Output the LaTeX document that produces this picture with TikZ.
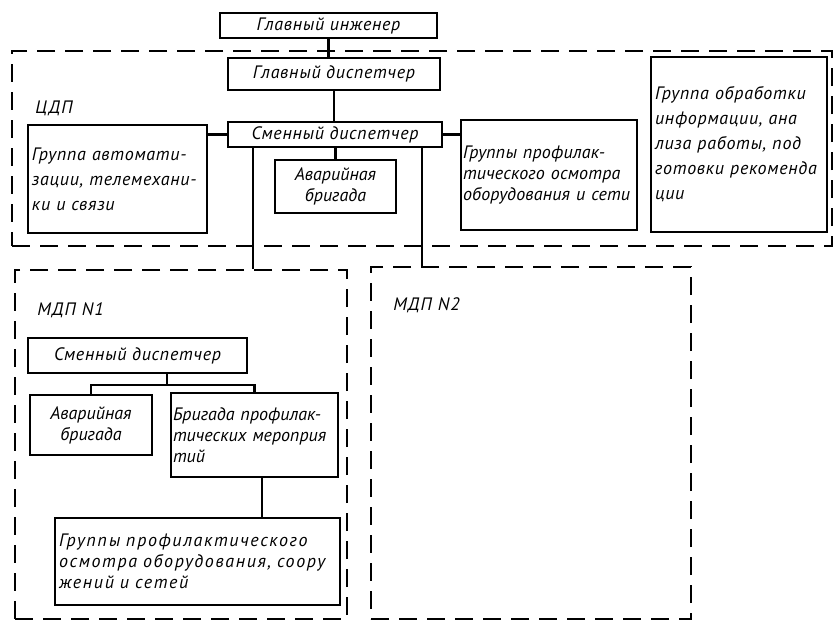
\documentclass[tikz,border=0pt]{standalone}
\usepackage{fontspec}
\setmainfont{PT Sans}
\usetikzlibrary{positioning,calc}
\tikzset{
  blok/.style={draw, line width=1.1pt, inner sep=2pt, align=left,
    font=\fontsize{9}{12.5}\selectfont\itshape\addfontfeatures{LetterSpace=4}},
  plotno/.style={font=\fontsize{9}{10.5}\selectfont\itshape},
  razryadka/.style={font=\fontsize{9}{10.5}\selectfont\itshape\addfontfeatures{LetterSpace=#1}},
  zona/.style={draw, line width=1.2pt, dash pattern=on 9pt off 5pt, inner sep=0pt},
  metka/.style={inner sep=0pt, font=\fontsize{9}{10}\selectfont\itshape\addfontfeatures{LetterSpace=6}},
  svyaz/.style={line width=1.1pt},
}

\begin{document}
\begin{tikzpicture}[x=0.5pt, y=-0.5pt]
        \useasboundingbox (0,0) rectangle (834,622);

        % Зоны
        \node[zona, minimum width=410pt, minimum height=97.5pt] (cdp) at (422,148.5) {};
        \node[zona, minimum width=166pt, minimum height=174.5pt] (mdp1) at (181,444.5) {};
        \node[zona, minimum width=160pt, minimum height=176pt] (mdp2) at (531,443) {};
        \node[metka, anchor=west] (cdpname) at (35,108) {ЦДП};
        \node[metka, anchor=west] (mdp1name) at (37,310) {МДП N1};
        \node[metka, anchor=west] (mdp2name) at (393,305) {МДП N2};

        % ЦДП
        \node[blok, minimum width=108.5pt, minimum height=11.5pt] (inzh) at (328.5,25.5) {Главный инженер};
        \node[blok, minimum width=106pt, minimum height=16pt] (glavdisp) at (334,74) {Главный диспетчер};
        \node[blok, minimum width=107pt, minimum height=12.5pt] (smen) at (335,134.5) {Сменный диспетчер};
        \node[blok, text width=85.5pt, minimum height=54pt] (avtom) at (117.5,179) {Группа автомати-\\зации, телемехани-\\ки и связи};
        \node[blok, plotno, align=center, minimum width=60.5pt, minimum height=26.5pt] (avar) at (335.5,186.5) {Аварийная\\бригада};
        \node[blok, razryadka=1, inner xsep=1pt, text width=86pt, minimum height=55pt] (profgr) at (549,175) {Группы профилак-\\тического осмотра\\оборудования и сети};
        \node[blok, text width=84pt, minimum height=87.5pt] (obrab) at (739,144.5) {Группа обработки\\информации, ана\\лиза работы, под\\готовки рекоменда\\ции};

        % МДП N1
        \node[blok, minimum width=109.5pt, minimum height=17.5pt] (smen1) at (137.5,355.5) {Сменный диспетчер};
        \node[blok, plotno, align=center, minimum width=61pt, minimum height=30pt] (avar1) at (91,425) {Аварийная\\бригада};
        \node[blok, plotno, inner xsep=1pt, text width=81.5pt, minimum height=42pt] (brig) at (254.5,435) {Бригада профилак-\\тических мероприя\\тий};
        \node[blok, razryadka=9, text width=138.5pt, minimum height=43.5pt] (osm) at (197.5,561.5) {Группы профилактического\\осмотра оборудования, соору\\жений и сетей};

        % Связи
        \draw[svyaz] (inzh.south) -- (inzh.south |- glavdisp.north);
        \draw[svyaz] (glavdisp.south) -- (glavdisp.south |- smen.north);
        \draw[svyaz] (avtom.east |- smen.west) -- (smen.west);
        \draw[svyaz] (smen.east) -- (smen.east -| profgr.west);
        \draw[svyaz] (avar.north) -- (avar.north |- smen.south);
        \draw[svyaz] ([xshift=-41pt]smen.south) -- ([xshift=-41pt]smen.south |- mdp1.north);
        \draw[svyaz] ([xshift=43.5pt]smen.south) -- ([xshift=43.5pt]smen.south |- mdp2.north);
        \draw[svyaz] ([xshift=14.75pt]smen1.south) -- ++(0,-5.5pt) coordinate (razv);
        \draw[svyaz] (avar1.north) |- (razv) -| (brig.north);
        \draw[svyaz] ([xshift=3.75pt]brig.south) -- ([xshift=3.75pt]brig.south |- osm.north);

    \end{tikzpicture}
\end{document}
